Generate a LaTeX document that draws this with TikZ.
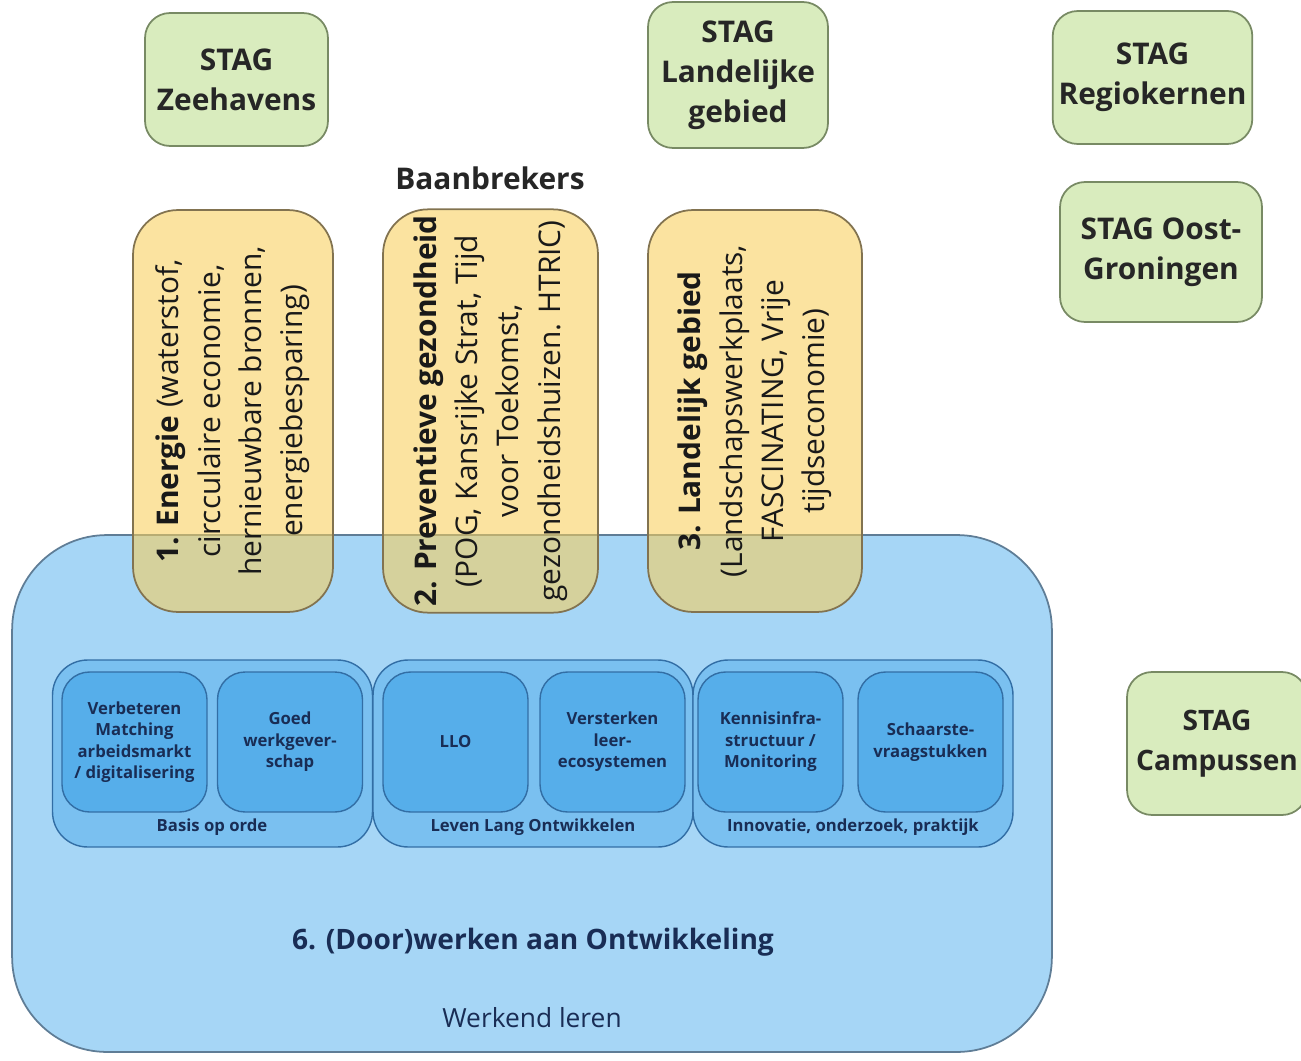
\documentclass[tikz,border=0pt]{standalone}
\usepackage{fontspec}
\setmainfont{Open Sans}
\usepackage{xcolor}
\usepackage{tikz}
\usetikzlibrary{positioning}

\definecolor{stagfill}{RGB}{217,236,190}
\definecolor{stagline}{RGB}{120,138,100}
\definecolor{bbfill}{RGB}{248,207,91}
\definecolor{bbline}{RGB}{130,115,80}
\definecolor{ontwfill}{RGB}{166,214,246}
\definecolor{ontwline}{RGB}{95,125,150}
\definecolor{groepfill}{RGB}{122,192,240}
\definecolor{groepline}{RGB}{50,110,165}
\definecolor{themafill}{RGB}{86,174,234}
\definecolor{navy}{RGB}{25,45,85}

\tikzset{
  stag/.style={draw=stagline, fill=stagfill, line width=1pt,
    rounded corners=0.5cm, align=center, text=black!85,
    font=\bfseries\fontsize{17}{22.7}\selectfont},
  baan/.style={draw=bbline, fill=bbfill, fill opacity=0.58,
    draw opacity=1, text opacity=1, line width=1pt,
    rounded corners=0.9cm, rotate=90, align=center,
    minimum width=8.04cm, text=black!90,
    font=\fontsize{17}{23.5}\selectfont},
  groep/.style={draw=groepline, fill=groepfill, line width=0.8pt,
    rounded corners=0.7cm, minimum width=6.4cm, minimum height=3.74cm},
  thema/.style={draw=groepline, fill=themafill, line width=0.8pt,
    rounded corners=0.55cm, minimum width=2.9cm, minimum height=2.8cm,
    align=center, text=navy,
    font=\bfseries\fontsize{9.5}{12.2}\selectfont},
  groeplabel/.style={text=navy, font=\bfseries\fontsize{9.5}{12}\selectfont}
}

\begin{document}
\begin{tikzpicture}
  [
    x=0.02cm, y=-0.02cm
  ]
  \useasboundingbox (0,0) rectangle (1301,1061);

  % STAG regios
  \node[stag, minimum width=3.66cm, minimum height=2.66cm] (zeehavens)
    at (236.5,79.5) {STAG\\Zeehavens};
  \node[stag, minimum width=3.6cm, minimum height=2.92cm] (landelijk)
    at (738,75) {STAG\\Landelijke\\gebied};
  \node[stag, minimum width=3.98cm, minimum height=2.66cm] (regiokernen)
    at (1152.5,77.5) {STAG\\Regiokernen};
  \node[stag, minimum width=4.04cm, minimum height=2.8cm] (oostgroningen)
    at (1161,252) {STAG Oost-\\Groningen};
  \node[stag, minimum width=3.6cm, minimum height=2.86cm,
    font=\bfseries\fontsize{16}{22.7}\selectfont] (campussen)
    at (1217,743.5) {STAG\\Campussen};

  % werkend leren
  \node[draw=ontwline, fill=ontwfill, line width=1pt, rounded corners=1.9cm,
    minimum width=20.8cm, minimum height=10.34cm] (ontwikkeling)
    at (532,793.5) {};

  \node[groep] (basis) at (212.5,753.5) {};
  \node[groep] (llo) at (533,753.5) {};
  \node[groep] (innovatie) at (853,753.5) {};

  \node[thema] (matching) at (134.5,742)
    {Verbeteren\\Matching\\arbeidsmarkt\\/ digitalisering};
  \node[thema] (werkgever) at (290,742) {Goed\\werkgever-\\schap};
  \node[thema] (lloblok) at (455.5,742) {LLO};
  \node[thema] (ecosys) at (612.5,742) {Versterken\\leer-\\ecosystemen};
  \node[thema] (kennis) at (770.5,742) {Kennisinfra-\\structuur /\\Monitoring};
  \node[thema] (schaarste) at (930.5,742) {Schaarste-\\vraagstukken};

  \node[groeplabel] (basislabel) at (212,827) {Basis op orde};
  \node[groeplabel] (llolabel) at (533,827) {Leven Lang Ontwikkelen};
  \node[groeplabel] (innovatielabel) at (853,827) {Innovatie, onderzoek, praktijk};

  \node[text=navy, font=\bfseries\fontsize{16}{20}\selectfont] (doorwerken)
    at (533,942) {6. (Door)werken aan Ontwikkeling};
  \node[text=navy, font=\fontsize{15}{18}\selectfont] (werkend)
    at (532,1018) {Werkend leren};

  % baanbrekers
  \node[font=\bfseries\fontsize{17}{22}\selectfont, text=black!85] (baanbrekers)
    at (490,178) {Baanbrekers};

  \node[baan, minimum height=4cm] (energie) at (233,411)
    {\textbf{1. Energie} (waterstof,\\circculaire economie,\\hernieuwbare bronnen,\\energiebesparing)};
  \node[baan, minimum height=4.3cm] (gezondheid) at (490.5,411)
    {\textbf{2. Preventieve gezondheid}\\(POG, Kansrijke Strat, Tijd\\voor Toekomst,\\gezondheidshuizen. HTRIC)};
  \node[baan, minimum height=4.28cm] (landelijkgebied) at (755,411)
    {\textbf{3. Landelijk gebied}\\(Landschapswerkplaats,\\FASCINATING, Vrije\\tijdseconomie)};
\end{tikzpicture}
\end{document}
